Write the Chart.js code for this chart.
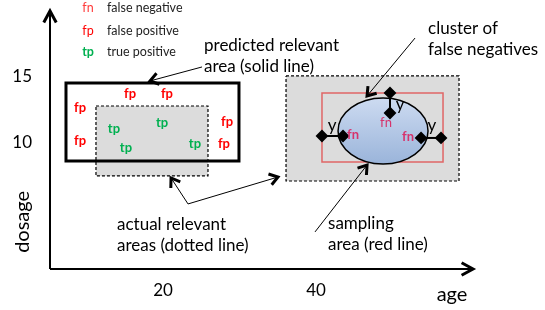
<!DOCTYPE html>
<html>
<head>
<meta charset="utf-8">
<script src="https://cdn.jsdelivr.net/npm/chart.js@4.4.0/dist/chart.umd.min.js"></script>
<style>
html, body { margin: 0; padding: 0; background: #fff; }
#wrap { width: 545px; height: 310px; position: relative; }
</style>
</head>
<body>
<div id="wrap"><canvas id="myChart"></canvas></div>
<script>
var FONT = 'Lato, "Open Sans", sans-serif';

// axes
var xTicks = [20, 40];
var yTicks = [10, 15];
var ageRange = [5.23, 60.78];
var dosageRange = [0.45, 20];
var axisEnd = { x: 60.52, y: 20 };

// boxes as [left, right, bottom, top] in age / dosage
var predictedArea = [7.32, 29.93, 8.64, 14.55];
var actualAreaA = [11.24, 25.88, 7.5, 12.8];
var actualAreaB = [36.08, 58.69, 7.12, 15.08];
var samplingArea = [40.78, 56.6, 8.56, 13.79];
var fnCluster = { x: 48.76, y: 10.91, rx: 5.88, ry: 2.5 };

// labelled samples
var fpPoints = [[15.69, 13.7], [20.52, 13.7], [9.15, 12.65], [9.15, 10.15], [28.37, 11.6], [27.97, 9.92]];
var tpPoints = [[13.59, 11.06], [19.87, 11.5], [15.16, 9.62], [24.18, 9.92]];
var fnPoints = [[44.84, 10.6, true], [49.15, 11.5, false], [52.03, 10.45, true]];

// distance y from sampling border to the cluster
var yGaps = [
    [[40.78, 10.53], [43.53, 10.53]],
    [[49.67, 13.79], [49.67, 12.27]],
    [[53.73, 10.38], [56.34, 10.38]]
];
var yLabels = [[42.09, 11.36], [50.98, 12.95], [55.16, 11.36]];

// callout arrows [from, to]
var arrows = [
    [[25.1, 15.76], [18.3, 14.7]],
    [[52.94, 17.95], [46.67, 13.56]],
    [[39.87, 3.26], [46.67, 8.33]],
    [[23.27, 5.38], [21.05, 7.35]],
    [[23.27, 5.38], [35.03, 7.42]]
];

var notes = [
    { lines: ['predicted relevant', 'area (solid line)'], x: 25.36, y: 17.4 },
    { lines: ['cluster of', 'false negatives'], x: 54.64, y: 18.7 },
    { lines: ['actual relevant', 'areas (dotted line)'], x: 13.99, y: 3.79 },
    { lines: ['sampling', 'area (red line)'], x: 41.57, y: 3.86 }
];

var legendCodes = ['fn', 'fp', 'tp'];
var legendNames = ['false negative', 'false positive', 'true positive'];
var legendColors = ['#ff3b3b', '#ff0000', '#00b050'];
var legendY = [20.23, 18.48, 16.89];
var legendX = [10.2, 12.68];

var ageTitle = { text: 'age', x: 57.78, y: -1.52 };
var dosageTitle = { text: 'dosage', x: 1.7, y: 4.02 };

function boxData(b) {
    return [
        { x: b[0], y: b[3] }, { x: b[1], y: b[3] }, { x: b[1], y: b[2] },
        { x: b[0], y: b[2] }, { x: b[0], y: b[3] }
    ];
}

function boxSet(b, opts) {
    var ds = {
        data: boxData(b),
        showLine: true,
        pointRadius: 0,
        borderColor: '#000',
        borderWidth: 1,
        borderJoinStyle: 'miter',
        borderCapStyle: 'square',
        fill: false,
        clip: false
    };
    for (var k in opts) ds[k] = opts[k];
    return ds;
}

var datasets = [];
datasets.push(boxSet(actualAreaB, { fill: 'shape', backgroundColor: '#dcdcdc', borderDash: [3, 2], borderWidth: 1.2, borderCapStyle: 'butt', order: 10 }));
datasets.push(boxSet(actualAreaA, { fill: 'shape', backgroundColor: '#dcdcdc', borderDash: [3, 2], borderWidth: 1.2, borderCapStyle: 'butt', order: 10 }));
datasets.push(boxSet(predictedArea, { borderWidth: 3, order: 9 }));
datasets.push(boxSet(samplingArea, { borderColor: '#e06666', borderWidth: 1.5, order: 8 }));
var samplingIndex = 3;

yGaps.forEach(function(g) {
    datasets.push({
        data: g.map(function(p) { return { x: p[0], y: p[1] }; }),
        showLine: true,
        borderColor: '#000',
        borderWidth: 2,
        pointStyle: 'rectRot',
        pointRadius: 5,
        pointBackgroundColor: '#000',
        pointBorderColor: '#000',
        clip: false,
        order: 5
    });
});

function arrowLine(ctx, x1, y1, x2, y2, lineW, headW, headLen, spread) {
    ctx.save();
    ctx.strokeStyle = '#000';
    ctx.lineWidth = lineW;
    ctx.beginPath();
    ctx.moveTo(x1, y1);
    ctx.lineTo(x2, y2);
    ctx.stroke();
    var a = Math.atan2(y2 - y1, x2 - x1);
    ctx.lineWidth = headW;
    ctx.lineJoin = 'miter';
    ctx.beginPath();
    ctx.moveTo(x2 - headLen * Math.cos(a - spread), y2 - headLen * Math.sin(a - spread));
    ctx.lineTo(x2, y2);
    ctx.lineTo(x2 - headLen * Math.cos(a + spread), y2 - headLen * Math.sin(a + spread));
    ctx.stroke();
    ctx.restore();
}

var diagramPlugin = {
    id: 'diagram',
    afterDatasetDraw: function(chart, args) {
        if (args.index !== samplingIndex) return;
        var xs = chart.scales.x, ys = chart.scales.y, ctx = chart.ctx;
        var cx = xs.getPixelForValue(fnCluster.x), cy = ys.getPixelForValue(fnCluster.y);
        var rx = xs.getPixelForValue(fnCluster.x + fnCluster.rx) - cx;
        var ry = cy - ys.getPixelForValue(fnCluster.y + fnCluster.ry);
        ctx.save();
        var grad = ctx.createLinearGradient(0, cy - ry, 0, cy + ry);
        grad.addColorStop(0, '#cddbf1');
        grad.addColorStop(1, '#9ab4da');
        ctx.beginPath();
        ctx.ellipse(cx, cy, rx, ry, 0, 0, Math.PI * 2);
        ctx.fillStyle = grad;
        ctx.fill();
        ctx.lineWidth = 1.5;
        ctx.strokeStyle = '#000';
        ctx.stroke();
        ctx.restore();
    },
    afterDatasetsDraw: function(chart) {
        var xs = chart.scales.x, ys = chart.scales.y, ctx = chart.ctx;
        function px(v) { return xs.getPixelForValue(v); }
        function py(v) { return ys.getPixelForValue(v); }
        function txt(t, x, y, font, color, align) {
            ctx.font = font;
            ctx.fillStyle = color;
            ctx.textAlign = align || 'center';
            ctx.textBaseline = 'middle';
            ctx.fillText(t, px(x), py(y));
        }

        // axes with arrow heads
        var ox = px(ageRange[0]), oy = py(dosageRange[0]);
        arrowLine(ctx, ox, oy, ox, py(axisEnd.y), 2, 3, 13, 0.5);
        arrowLine(ctx, ox, oy, px(axisEnd.x), oy, 2, 3, 13, 0.5);

        arrows.forEach(function(a) {
            arrowLine(ctx, px(a[0][0]), py(a[0][1]), px(a[1][0]), py(a[1][1]), 1, 3, 10, 0.6);
        });

        ctx.save();
        fpPoints.forEach(function(p) { txt('fp', p[0], p[1], 'bold 13px ' + FONT, '#ff0000'); });
        tpPoints.forEach(function(p) { txt('tp', p[0], p[1], 'bold 13px ' + FONT, '#00b050'); });
        fnPoints.forEach(function(p) { txt('fn', p[0], p[1], (p[2] ? 'bold ' : '') + '13px ' + FONT, '#d6336c'); });
        yLabels.forEach(function(p) { txt('y', p[0], p[1], '17px ' + FONT, '#000'); });

        notes.forEach(function(n) {
            ctx.font = '17px ' + FONT;
            ctx.fillStyle = '#000';
            ctx.textAlign = 'left';
            ctx.textBaseline = 'middle';
            n.lines.forEach(function(l, i) {
                ctx.fillText(l, px(n.x), py(n.y) + i * 21);
            });
        });

        legendCodes.forEach(function(c, i) {
            txt(c, legendX[0], legendY[i], (c === 'tp' ? 'bold ' : '') + '12.5px ' + FONT, legendColors[i]);
            txt(legendNames[i], legendX[1], legendY[i], '12.5px ' + FONT, '#222', 'left');
        });

        txt(ageTitle.text, ageTitle.x, ageTitle.y, '20px ' + FONT, '#000');
        ctx.translate(px(dosageTitle.x), py(dosageTitle.y));
        ctx.rotate(-Math.PI / 2);
        ctx.font = '20px ' + FONT;
        ctx.fillStyle = '#000';
        ctx.textAlign = 'center';
        ctx.textBaseline = 'middle';
        ctx.fillText(dosageTitle.text, 0, 0);
        ctx.restore();
    }
};

var ctx = document.getElementById('myChart').getContext('2d');
var myChart = new Chart(ctx, {
    type: 'scatter',
    data: { datasets: datasets },
    options: {
        responsive: true,
        maintainAspectRatio: false,
        animation: false,
        events: [],
        layout: { padding: { top: 11, right: 70, left: 0, bottom: 0 } },
        plugins: { legend: { display: false }, tooltip: { enabled: false } },
        scales: {
            x: {
                type: 'linear',
                min: ageRange[0],
                max: ageRange[1],
                grid: { display: false, drawTicks: false },
                border: { display: false },
                ticks: { font: { family: FONT, size: 17 }, color: '#000', padding: 11, autoSkip: false },
                afterBuildTicks: function(s) { s.ticks = xTicks.map(function(v) { return { value: v }; }); },
                afterFit: function(s) { s.height = 41; s.paddingLeft = 0; s.paddingRight = 0; }
            },
            y: {
                type: 'linear',
                min: dosageRange[0],
                max: dosageRange[1],
                grid: { display: false, drawTicks: false },
                border: { display: false },
                ticks: { font: { family: FONT, size: 17 }, color: '#000', padding: 18, autoSkip: false },
                afterBuildTicks: function(s) { s.ticks = yTicks.map(function(v) { return { value: v }; }); },
                afterFit: function(s) { s.width = 50; s.paddingTop = 0; s.paddingBottom = 0; }
            }
        }
    },
    plugins: [diagramPlugin]
});
</script>
</body>
</html>
